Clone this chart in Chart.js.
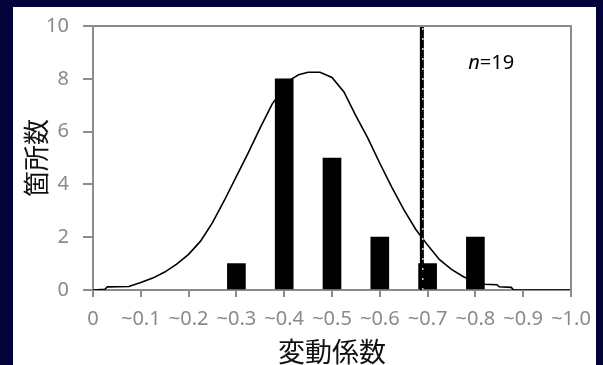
<!DOCTYPE html>
<html>
<head>
<meta charset="utf-8">
<script src="https://cdn.jsdelivr.net/npm/chart.js@4.4.0/dist/chart.umd.min.js"></script>
<style>
    html, body { margin: 0; padding: 0; }
    body { width: 603px; height: 365px; background: #04043a; position: relative; overflow: hidden; }
    #panel { position: absolute; left: 13px; top: 7px; width: 583px; height: 358px; background: #ffffff; }
    #grafico { position: absolute; left: 0; top: 0; }
</style>
</head>
<body>
<div id="panel"></div>
<canvas id="grafico" width="603" height="365"></canvas>
<script>
// #region Dados

var rotulosX = ["0", "~0.1", "~0.2", "~0.3", "~0.4", "~0.5", "~0.6", "~0.7", "~0.8", "~0.9", "~1.0"];

var classesBarras = [0.3, 0.4, 0.5, 0.6, 0.7, 0.8];
var quantidades = [1, 8, 5, 2, 1, 2];

var curvaX = [0, 0.025, 0.03, 0.075, 0.1, 0.125, 0.15, 0.175, 0.2, 0.225, 0.25, 0.275, 0.3, 0.325, 0.35, 0.375, 0.4, 0.416,
    0.43, 0.45, 0.475, 0.5, 0.525, 0.55, 0.575, 0.6, 0.625, 0.65, 0.675, 0.7, 0.725, 0.75, 0.775, 0.8, 0.82, 0.845,
    0.85, 0.875, 0.88, 1.0];
var curvaY = [0, 0.03, 0.12, 0.13, 0.28, 0.45, 0.68, 0.98, 1.35, 1.85, 2.55, 3.4, 4.3, 5.2, 6.15, 7.05, 7.65, 8.0,
    8.15, 8.25, 8.25, 8.05, 7.5, 6.6, 5.75, 4.8, 3.9, 3.05, 2.3, 1.7, 1.15, 0.78, 0.5, 0.3, 0.22, 0.2,
    0.12, 0.1, 0, 0];

var limite = 0.688;
var textoAmostra = "19";

// #endregion Dados

// #region Funções

function montarPontos(xs, ys) {
    return xs.map(function (x, i) { return { x: x, y: ys[i] }; });
}

var molduraPlugin = {
    id: "moldura",
    afterDatasetsDraw: function (chart) {
        var ctx = chart.ctx;
        var area = chart.chartArea;
        ctx.save();
        ctx.strokeStyle = "#8c8c8c";
        ctx.lineWidth = 2;
        ctx.beginPath();
        ctx.moveTo(area.left, area.top);
        ctx.lineTo(area.right, area.top);
        ctx.lineTo(area.right, area.bottom);
        ctx.stroke();

        var px = chart.scales.x.getPixelForValue(0.785);
        var py = chart.scales.y.getPixelForValue(8.6);
        ctx.fillStyle = "#000";
        ctx.textBaseline = "middle";
        ctx.textAlign = "left";
        ctx.font = 'italic 20px "Noto Sans"';
        ctx.fillText("n", px, py);
        var w = ctx.measureText("n").width;
        ctx.font = '20px "Noto Sans"';
        ctx.fillText("=" + textoAmostra, px + w, py);
        ctx.restore();
    }
};

function loadGrafico() {
    var corTexto = "#8a8a8a";
    var options = {
        type: "bar",
        data: {
            datasets: [
                {
                    type: "line",
                    data: [{ x: limite + 0.002, y: 0 }, { x: limite + 0.002, y: 10 }],
                    borderColor: "#ffffff",
                    borderWidth: 1.2,
                    borderDash: [2, 8],
                    pointRadius: 0,
                    order: 0
                },
                {
                    type: "line",
                    data: [{ x: limite, y: 0 }, { x: limite, y: 10 }],
                    borderColor: "#000000",
                    borderWidth: 4,
                    pointRadius: 0,
                    order: 1
                },
                {
                    type: "line",
                    data: montarPontos(curvaX, curvaY),
                    borderColor: "#000000",
                    borderWidth: 1.6,
                    tension: 0,
                    pointRadius: 0,
                    order: 2
                },
                {
                    type: "bar",
                    data: montarPontos(classesBarras, quantidades),
                    backgroundColor: "#000000",
                    barThickness: 18,
                    order: 3
                }
            ]
        },
        options: {
            responsive: false,
            animation: false,
            devicePixelRatio: 1,
            layout: { padding: { left: 0, top: 22, right: 32, bottom: 0 } },
            plugins: { legend: { display: false }, tooltip: { enabled: false } },
            scales: {
                x: {
                    type: "linear",
                    min: 0,
                    max: 1,
                    offset: false,
                    afterFit: function (scale) { scale.height = 75; },
                    grid: { display: true, offset: false, drawOnChartArea: false, drawTicks: true, tickLength: 7, color: "#8c8c8c", lineWidth: 2 },
                    border: { display: true, color: "#8c8c8c", width: 2 },
                    ticks: {
                        stepSize: 0.1,
                        autoSkip: false,
                        maxRotation: 0,
                        padding: 10,
                        color: corTexto,
                        font: { family: '"Noto Sans"', size: 20 },
                        callback: function (v, i) { return rotulosX[i]; }
                    },
                    title: {
                        display: true,
                        text: "変動係数",
                        color: "#111",
                        padding: { top: 0, bottom: 0 },
                        font: { family: '"Noto Sans CJK JP"', size: 27, lineHeight: 0.98 }
                    }
                },
                y: {
                    min: 0,
                    max: 10,
                    afterFit: function (scale) { scale.width = 93; },
                    grid: { display: true, drawOnChartArea: false, drawTicks: true, tickLength: 10, color: "#8c8c8c", lineWidth: 2 },
                    border: { display: true, color: "#8c8c8c", width: 2 },
                    ticks: {
                        stepSize: 2,
                        padding: 14,
                        color: corTexto,
                        font: { family: '"Noto Sans"', size: 20 }
                    },
                    title: {
                        display: true,
                        text: "箇所数",
                        color: "#111",
                        padding: { top: 21, bottom: 0 },
                        font: { family: '"Noto Sans CJK JP"', size: 26, lineHeight: 1.2 }
                    }
                }
            }
        },
        plugins: [molduraPlugin]
    };

    return new Chart(document.getElementById("grafico"), options);
}

// #endregion Funções

loadGrafico();
</script>
</body>
</html>
